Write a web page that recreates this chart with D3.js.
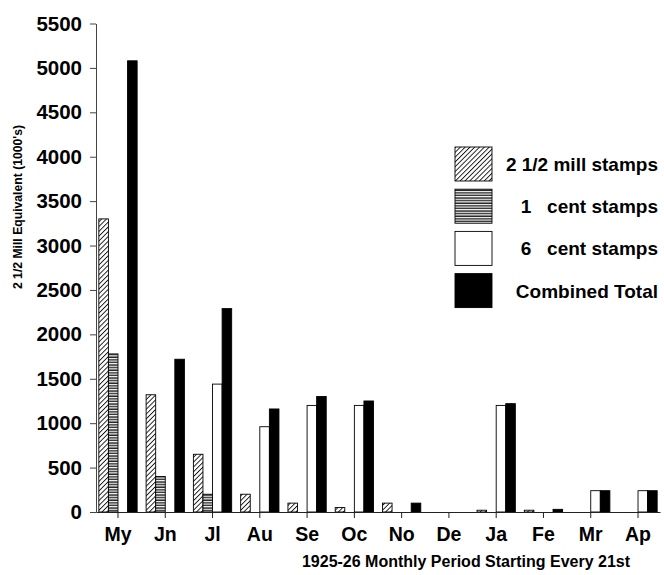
<!DOCTYPE html>
<html>
<head>
<meta charset="utf-8">
<script src="https://cdn.jsdelivr.net/npm/d3@7"></script>
<style>
  body { margin: 0; background: #fff; }
  text { font-family: "Liberation Sans", Arial, sans-serif; font-weight: bold; fill: #000; }
</style>
</head>
<body>
<svg id="chart"></svg>
<script>
// values (thousands, 2 1/2 mill equivalent)
const months = ['My', 'Jn', 'Jl', 'Au', 'Se', 'Oc', 'No', 'De', 'Ja', 'Fe', 'Mr', 'Ap'];
const millStamps = [3300, 1320, 650, 200, 100, 50, 100, 0, 20, 20, 0, 0];
const oneCentStamps = [1780, 400, 200, 0, 0, 0, 0, 0, 0, 0, 0, 0];
const sixCentStamps = [0, 0, 1440, 960, 1200, 1200, 0, 0, 1200, 0, 240, 240];
const combinedTotal = [5080, 1720, 2290, 1160, 1300, 1250, 100, 0, 1220, 30, 240, 240];
const yTicks = [0, 500, 1000, 1500, 2000, 2500, 3000, 3500, 4000, 4500, 5000, 5500];

const seriesNames = ['2 1/2 mill stamps', '1   cent stamps', '6   cent stamps', 'Combined Total'];
const seriesFills = ['url(#diag)', 'url(#horiz)', '#fff', '#000'];

const width = 664, height = 575;
const svg = d3.select('#chart')
    .attr('width', width)
    .attr('height', height);

// hatch patterns
const defs = svg.append('defs');
const diag = defs.append('pattern')
    .attr('id', 'diag')
    .attr('patternUnits', 'userSpaceOnUse')
    .attr('width', 3.4)
    .attr('height', 3.4)
    .attr('patternTransform', 'rotate(45)');
diag.append('rect').attr('width', 3.4).attr('height', 3.4).attr('fill', '#fff');
diag.append('line')
    .attr('x1', 0).attr('y1', 0).attr('x2', 0).attr('y2', 3.4)
    .attr('stroke', '#111').attr('stroke-width', 1.8);

const horiz = defs.append('pattern')
    .attr('id', 'horiz')
    .attr('patternUnits', 'userSpaceOnUse')
    .attr('width', 4)
    .attr('height', 2.6);
horiz.append('rect').attr('width', 4).attr('height', 2.6).attr('fill', '#fff');
horiz.append('line')
    .attr('x1', 0).attr('y1', 1).attr('x2', 4).attr('y2', 1)
    .attr('stroke', '#111').attr('stroke-width', 1.3);

const x = d3.scaleBand()
    .domain(months)
    .range([96, 660])
    .paddingInner(0.19)
    .paddingOuter(0.06);

const xs = d3.scaleBand()
    .domain(d3.range(4))
    .range([0, x.bandwidth()]);

const y = d3.scaleLinear()
    .domain([0, 5500])
    .range([512, 23.5]);

const table = months.map((m, i) => ({
    month: m,
    values: [millStamps[i], oneCentStamps[i], sixCentStamps[i], combinedTotal[i]]
}));

// bars
const groups = svg.append('g')
    .selectAll('g')
    .data(table)
    .join('g')
    .attr('transform', d => `translate(${x(d.month)},0)`);

groups.selectAll('rect')
    .data(d => d.values)
    .join('rect')
    .attr('x', (d, i) => xs(i))
    .attr('y', d => y(d))
    .attr('width', xs.bandwidth())
    .attr('height', d => y(0) - y(d))
    .attr('fill', (d, i) => seriesFills[i])
    .attr('stroke', '#000')
    .attr('stroke-width', 0.9);

// axes
const yaxis = d3.axisLeft(y)
    .tickValues(yTicks)
    .tickFormat(d3.format('d'))
    .tickSize(6)
    .tickPadding(8)
    .tickSizeOuter(0);

const yaxis_group = svg.append('g')
    .attr('transform', 'translate(96,0)')
    .call(yaxis);
yaxis_group.selectAll('text').style('font-size', '20.5px');
yaxis_group.selectAll('line, path').attr('stroke', '#444');

const xaxis = d3.axisBottom(x)
    .tickSize(6)
    .tickPadding(9)
    .tickSizeOuter(0);

const xaxis_group = svg.append('g')
    .attr('transform', 'translate(0,512)')
    .call(xaxis);
xaxis_group.selectAll('text').style('font-size', '19.5px');
xaxis_group.selectAll('line, path').attr('stroke', '#222');

// axis titles
svg.append('text')
    .attr('transform', 'translate(22,207) rotate(-90)')
    .attr('text-anchor', 'middle')
    .style('font-size', '12.2px')
    .text("2 1/2 Mill Equivalent (1000's)");

svg.append('text')
    .attr('x', 466)
    .attr('y', 567)
    .attr('text-anchor', 'middle')
    .style('font-size', '16px')
    .text('1925-26 Monthly Period Starting Every 21st');

// legend
const legend = svg.append('g')
    .attr('transform', 'translate(455,147)');

const items = legend.selectAll('g')
    .data(seriesNames)
    .join('g')
    .attr('transform', (d, i) => `translate(0,${i * 42.2})`);

items.append('rect')
    .attr('width', 37)
    .attr('height', 34)
    .attr('fill', (d, i) => seriesFills[i])
    .attr('stroke', '#000')
    .attr('stroke-width', 0.9);

items.append('text')
    .attr('x', 203)
    .attr('y', 24)
    .attr('text-anchor', 'end')
    .style('font-size', '19px')
    .style('white-space', 'pre')
    .text(d => d);
</script>
</body>
</html>
